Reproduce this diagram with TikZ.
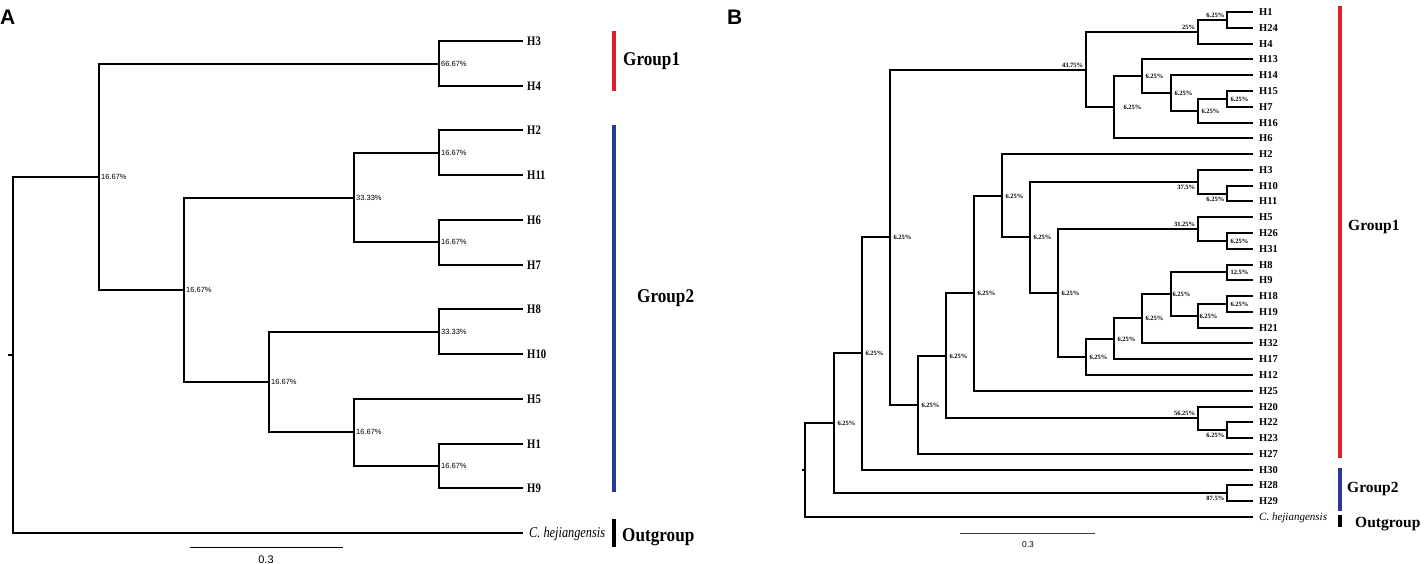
\documentclass[tikz,border=0pt]{standalone}
\usepackage{fontspec}
\setmainfont{Liberation Serif}
\setsansfont{Liberation Sans}
\newfontfamily\condserif[FakeStretch=0.82]{Liberation Serif}
\newfontfamily\grpfont[FakeStretch=0.88]{Liberation Serif}
\definecolor{grpred}{RGB}{222,32,44}
\definecolor{grpblue}{RGB}{42,56,150}
\tikzset{
  brA/.style={line width=2pt, line join=miter},
  brB/.style={line width=1.5pt, line join=miter},
  leafA/.style={anchor=west, inner xsep=4pt, inner ysep=0pt, font=\condserif\bfseries\fontsize{13}{13}\selectfont, text height=8.6pt, text depth=0pt},
  outA/.style={anchor=west, inner xsep=6pt, inner ysep=0pt, font=\condserif\itshape\fontsize{15}{15}\selectfont, text height=9.5pt, text depth=0pt},
  leafB/.style={anchor=west, inner xsep=6pt, inner ysep=0pt, font=\bfseries\fontsize{10.5}{10.5}\selectfont, text height=7pt, text depth=0pt},
  outB/.style={anchor=west, inner xsep=6pt, inner ysep=0pt, font=\itshape\fontsize{11}{11}\selectfont, text height=7.3pt, text depth=0pt},
  lblA/.style={font=\sffamily\fontsize{7.5}{7.5}\selectfont, inner sep=1pt, text height=5.4pt, text depth=0pt},
  lblB/.style={font=\bfseries\fontsize{6.5}{6.5}\selectfont, inner sep=0.8pt, text height=4.4pt, text depth=0pt},
  grpA/.style={anchor=west, inner sep=0pt, font=\grpfont\bfseries\fontsize{19.5}{19.5}\selectfont, text height=13.2pt, text depth=0pt},
  grpB/.style={anchor=west, inner sep=0pt, font=\bfseries\fontsize{15.5}{15.5}\selectfont, text height=10.5pt, text depth=0pt},
  panel/.style={anchor=north west, inner sep=0pt, font=\sffamily\bfseries\fontsize{21}{21}\selectfont},
  barline/.style={line width=4pt},
  scalebar/.style={line width=1pt},
  scaletext/.style={inner sep=0pt, font=\sffamily\fontsize{#1}{#1}\selectfont},
  lA/.style={label={[lblA,label distance=1pt]right:#1}},
  lBr/.style={label={[lblB,label distance=2.5pt]right:#1}},
  lBal/.style={label={[lblB,label distance=2.5pt]above left:#1}},
  lBbl/.style={label={[lblB,label distance=2.5pt]below left:#1}},
}
\begin{document}
\begin{tikzpicture}[x=1pt,y=-1pt]
\useasboundingbox (0,0) rectangle (1426,564);

% ================= Panel A =================
\node[panel] (pA) at (0,10) {A};

% leaves
\node[leafA] (AH3)  at (523,41)  {H3};
\node[leafA] (AH4)  at (523,86)  {H4};
\node[leafA] (AH2)  at (523,130) {H2};
\node[leafA] (AH11) at (523,175) {H11};
\node[leafA] (AH6)  at (523,220) {H6};
\node[leafA] (AH7)  at (523,265) {H7};
\node[leafA] (AH8)  at (523,309) {H8};
\node[leafA] (AH10) at (523,354) {H10};
\node[leafA] (AH5)  at (523,399) {H5};
\node[leafA] (AH1)  at (523,444) {H1};
\node[leafA] (AH9)  at (523,488) {H9};
\node[outA]  (Aout) at (523,533) {C. hejiangensis};

% internal nodes
\coordinate[lA={66.67\%}] (a34)  at (439,64);
\coordinate[lA={16.67\%}] (a211) at (439,153);
\coordinate[lA={16.67\%}] (a67)  at (439,242);
\coordinate[lA={33.33\%}] (a33)  at (354,198);
\coordinate[lA={33.33\%}] (a810) at (439,332);
\coordinate[lA={16.67\%}] (a19)  at (439,466);
\coordinate[lA={16.67\%}] (a5)   at (354,432);
\coordinate[lA={16.67\%}] (a269) at (269,382);
\coordinate[lA={16.67\%}] (a184) at (184,290);
\coordinate[lA={16.67\%}] (a99)  at (99,177);
\coordinate (aroot) at (13,355);
\coordinate (atick) at (8,355);

\draw[brA] (a34) |- (AH3.west) (a34) |- (AH4.west);
\draw[brA] (a211) |- (AH2.west) (a211) |- (AH11.west);
\draw[brA] (a67) |- (AH6.west) (a67) |- (AH7.west);
\draw[brA] (a33) |- (a211) (a33) |- (a67);
\draw[brA] (a810) |- (AH8.west) (a810) |- (AH10.west);
\draw[brA] (a19) |- (AH1.west) (a19) |- (AH9.west);
\draw[brA] (a5) |- (AH5.west) (a5) |- (a19);
\draw[brA] (a269) |- (a810) (a269) |- (a5);
\draw[brA] (a184) |- (a33) (a184) |- (a269);
\draw[brA] (a99) |- (a34) (a99) |- (a184);
\draw[brA] (aroot) |- (a99) (aroot) |- (Aout.west);
\draw[brA] (atick) -- (aroot);

% group bars A
\coordinate (ag1t) at (614,31);  \coordinate (ag1b) at (614,91);
\coordinate (ag2t) at (614,125); \coordinate (ag2b) at (614,492);
\coordinate (ag3t) at (614,519); \coordinate (ag3b) at (614,547);
\draw[barline,grpred] (ag1t) -- (ag1b);
\draw[barline,grpblue] (ag2t) -- (ag2b);
\draw[line width=4.5pt,black] (ag3t) -- (ag3b);
\node[grpA] (AG1) at (623,58.5) {Group1};
\node[grpA] (AG2) at (637,296) {Group2};
\node[grpA] (AG3) at (622,535) {Outgroup};

% scale bar A
\coordinate (asl) at (190,547.5); \coordinate (asr) at (343,547.5);
\draw[scalebar] (asl) -- (asr);
\node[scaletext=11] (asc) at (266,559.5) {0.3};

% ================= Panel B =================
\node[panel] (pB) at (727,10) {B};

% leaves
\node[leafB] (BH1)  at (1253,12)  {H1};
\node[leafB] (BH24) at (1253,28)  {H24};
\node[leafB] (BH4)  at (1253,44)  {H4};
\node[leafB] (BH13) at (1253,59)  {H13};
\node[leafB] (BH14) at (1253,75)  {H14};
\node[leafB] (BH15) at (1253,91)  {H15};
\node[leafB] (BH7)  at (1253,107) {H7};
\node[leafB] (BH16) at (1253,123) {H16};
\node[leafB] (BH6)  at (1253,138) {H6};
\node[leafB] (BH2)  at (1253,154) {H2};
\node[leafB] (BH3)  at (1253,170) {H3};
\node[leafB] (BH10) at (1253,186) {H10};
\node[leafB] (BH11) at (1253,201) {H11};
\node[leafB] (BH5)  at (1253,217) {H5};
\node[leafB] (BH26) at (1253,233) {H26};
\node[leafB] (BH31) at (1253,249) {H31};
\node[leafB] (BH8)  at (1253,265) {H8};
\node[leafB] (BH9)  at (1253,280) {H9};
\node[leafB] (BH18) at (1253,296) {H18};
\node[leafB] (BH19) at (1253,312) {H19};
\node[leafB] (BH21) at (1253,328) {H21};
\node[leafB] (BH32) at (1253,343) {H32};
\node[leafB] (BH17) at (1253,359) {H17};
\node[leafB] (BH12) at (1253,375) {H12};
\node[leafB] (BH25) at (1253,391) {H25};
\node[leafB] (BH20) at (1253,407) {H20};
\node[leafB] (BH22) at (1253,422) {H22};
\node[leafB] (BH23) at (1253,438) {H23};
\node[leafB] (BH27) at (1253,454) {H27};
\node[leafB] (BH30) at (1253,470) {H30};
\node[leafB] (BH28) at (1253,485) {H28};
\node[leafB] (BH29) at (1253,501) {H29};
\node[outB]  (Bout) at (1253,517) {C. hejiangensis};

% internal nodes
\coordinate[lBal={6.25\%}]  (bHa)  at (1227,20);
\coordinate[lBal={25\%}]    (bHb)  at (1198,32);
\coordinate[lBr={6.25\%}]   (bHc)  at (1227,99);
\coordinate[lBr={6.25\%}]   (bHd)  at (1198,111);
\coordinate[lBr={6.25\%}]   (bHe)  at (1171,93);
\coordinate[lBr={6.25\%}]   (bHf)  at (1142,76);
\coordinate[label={[lblB,label distance=2.5pt,xshift=6pt]right:6.25\%}] (bHg) at (1114,107);
\coordinate[lBal={43.75\%}] (bHh)  at (1086,70);
\coordinate[lBbl={6.25\%}]  (bHi)  at (1227,194);
\coordinate[lBbl={37.5\%}]  (bHj)  at (1198,182);
\coordinate[lBr={6.25\%}]   (bHk)  at (1227,241);
\coordinate[lBal={31.25\%}] (bHl)  at (1198,229);
\coordinate[lBr={12.5\%}]   (bHm)  at (1227,272);
\coordinate[lBr={6.25\%}]   (bHn)  at (1227,304);
\coordinate[label={[lblB,label distance=0.5pt]right:6.25\%}] (bHo) at (1198,316);
\coordinate[label={[lblB,label distance=0.5pt]right:6.25\%}] (bHp) at (1171,294);
\coordinate[lBr={6.25\%}]   (bHq)  at (1142,318);
\coordinate[lBr={6.25\%}]   (bHr)  at (1114,339);
\coordinate[lBr={6.25\%}]   (bHs)  at (1086,357);
\coordinate[lBr={6.25\%}]   (bHt)  at (1058,293);
\coordinate[lBr={6.25\%}]   (bHu)  at (1030,237);
\coordinate[lBr={6.25\%}]   (bHv)  at (1002,196);
\coordinate[lBr={6.25\%}]   (bHw)  at (974,293);
\coordinate[lBbl={6.25\%}]  (bHx)  at (1227,430);
\coordinate[lBal={56.25\%}] (bHy)  at (1198,418);
\coordinate[lBr={6.25\%}]   (bHz)  at (946,356);
\coordinate[lBr={6.25\%}]   (bIa)  at (918,405);
\coordinate[lBr={6.25\%}]   (bIb)  at (890,237);
\coordinate[lBr={6.25\%}]   (bIc)  at (862,353);
\coordinate[lBbl={87.5\%}]  (bId)  at (1227,493);
\coordinate[lBr={6.25\%}]   (bIe)  at (834,423);
\coordinate (broot) at (805,470);
\coordinate (btick) at (801.5,470);

\draw[brB] (bHa) |- (BH1.west) (bHa) |- (BH24.west);
\draw[brB] (bHb) |- (bHa) (bHb) |- (BH4.west);
\draw[brB] (bHc) |- (BH15.west) (bHc) |- (BH7.west);
\draw[brB] (bHd) |- (bHc) (bHd) |- (BH16.west);
\draw[brB] (bHe) |- (BH14.west) (bHe) |- (bHd);
\draw[brB] (bHf) |- (BH13.west) (bHf) |- (bHe);
\draw[brB] (bHg) |- (bHf) (bHg) |- (BH6.west);
\draw[brB] (bHh) |- (bHb) (bHh) |- (bHg);
\draw[brB] (bHi) |- (BH10.west) (bHi) |- (BH11.west);
\draw[brB] (bHj) |- (BH3.west) (bHj) |- (bHi);
\draw[brB] (bHk) |- (BH26.west) (bHk) |- (BH31.west);
\draw[brB] (bHl) |- (BH5.west) (bHl) |- (bHk);
\draw[brB] (bHm) |- (BH8.west) (bHm) |- (BH9.west);
\draw[brB] (bHn) |- (BH18.west) (bHn) |- (BH19.west);
\draw[brB] (bHo) |- (bHn) (bHo) |- (BH21.west);
\draw[brB] (bHp) |- (bHm) (bHp) |- (bHo);
\draw[brB] (bHq) |- (bHp) (bHq) |- (BH32.west);
\draw[brB] (bHr) |- (bHq) (bHr) |- (BH17.west);
\draw[brB] (bHs) |- (bHr) (bHs) |- (BH12.west);
\draw[brB] (bHt) |- (bHl) (bHt) |- (bHs);
\draw[brB] (bHu) |- (bHj) (bHu) |- (bHt);
\draw[brB] (bHv) |- (BH2.west) (bHv) |- (bHu);
\draw[brB] (bHw) |- (bHv) (bHw) |- (BH25.west);
\draw[brB] (bHx) |- (BH22.west) (bHx) |- (BH23.west);
\draw[brB] (bHy) |- (BH20.west) (bHy) |- (bHx);
\draw[brB] (bHz) |- (bHw) (bHz) |- (bHy);
\draw[brB] (bIa) |- (bHz) (bIa) |- (BH27.west);
\draw[brB] (bIb) |- (bHh) (bIb) |- (bIa);
\draw[brB] (bIc) |- (bIb) (bIc) |- (BH30.west);
\draw[brB] (bId) |- (BH28.west) (bId) |- (BH29.west);
\draw[brB] (bIe) |- (bIc) (bIe) |- (bId);
\draw[brB] (broot) |- (bIe) (broot) |- (Bout.west);
\draw[brB] (btick) -- (broot);

% group bars B
\coordinate (bg1t) at (1340,6);   \coordinate (bg1b) at (1340,458);
\coordinate (bg2t) at (1340,468); \coordinate (bg2b) at (1340,511);
\coordinate (bg3t) at (1340,515); \coordinate (bg3b) at (1340,527);
\draw[barline,grpred] (bg1t) -- (bg1b);
\draw[barline,grpblue] (bg2t) -- (bg2b);
\draw[barline,black] (bg3t) -- (bg3b);
\node[grpB] (BG1) at (1348,225.5) {Group1};
\node[grpB] (BG2) at (1347,487) {Group2};
\node[grpB] (BG3) at (1355,522) {Outgroup};

% scale bar B
\coordinate (bsl) at (960,533.5); \coordinate (bsr) at (1095,533.5);
\draw[scalebar,line width=0.9pt,black!75] (bsl) -- (bsr);
\node[scaletext=8.5] (bsc) at (1028,545) {0.3};
\end{tikzpicture}
\end{document}
